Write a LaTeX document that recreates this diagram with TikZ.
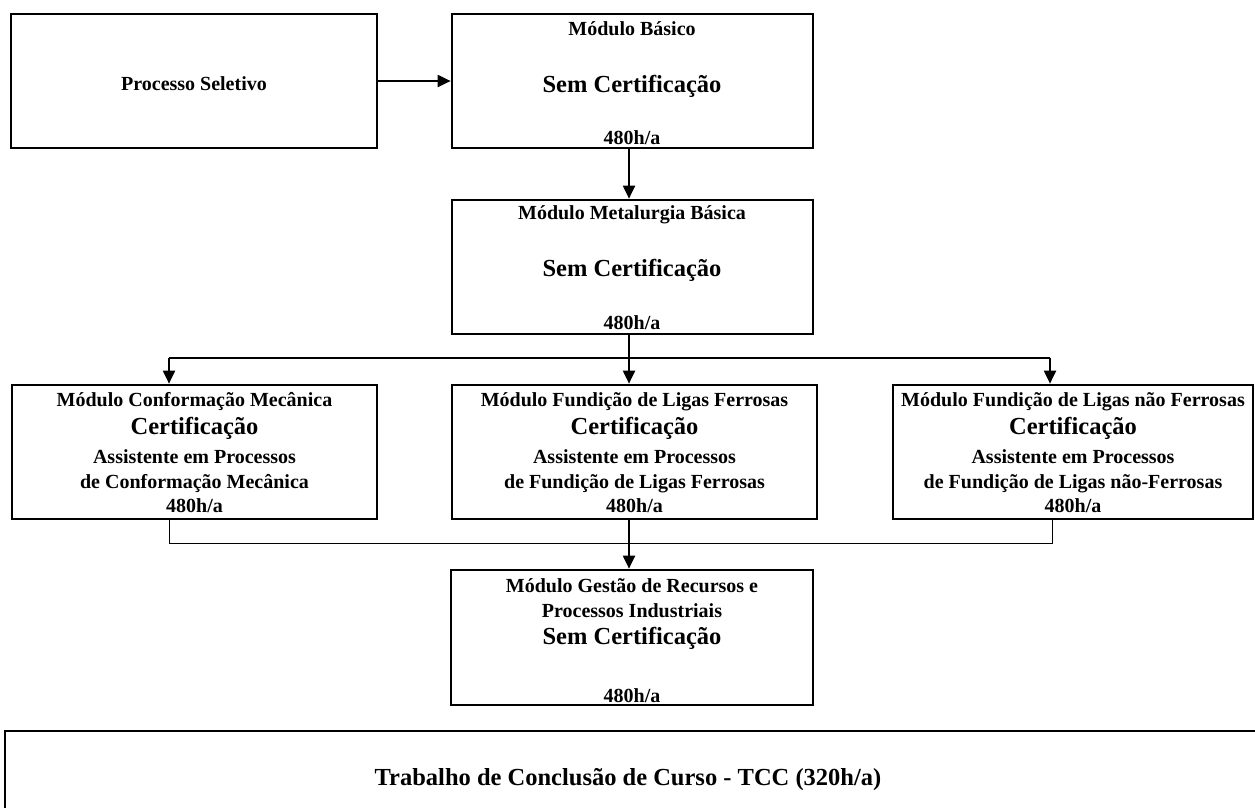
\documentclass[tikz,border=0pt]{standalone}
\usepackage{fontspec}
\setmainfont{Liberation Serif}
\usetikzlibrary{arrows.meta}
\tikzset{
  modbox/.style={draw=black,line width=2.7pt,inner sep=0pt,minimum height=134pt},% course module
  small/.style={font=\fontsize{20}{24}\selectfont\bfseries,inner sep=0pt,anchor=base},
  big/.style={font=\fontsize{24.5}{29}\selectfont\bfseries,inner sep=0pt,anchor=base},
  arr/.style={-{Triangle[length=13pt,width=12pt]},line width=2pt},
  branch/.style={line width=1.5pt},
  merge/.style={line width=1pt},
}

\begin{document}
\begin{tikzpicture}[x=1pt,y=-1pt]
  \clip (0,0) rectangle (1255,807);
  % boxes
  \node[modbox,minimum width=366pt] (proc) at (194,81) {};
  \node[modbox,minimum width=361pt] (basico) at (632.5,81) {};
  \node[modbox,minimum width=361pt] (metal) at (632.5,267) {};
  \node[modbox,minimum width=365pt] (conf) at (194.5,452) {};
  \node[modbox,minimum width=365pt] (fer) at (634.5,452) {};
  \node[modbox,minimum width=360pt] (nfer) at (1073,452) {};
  \node[modbox,minimum width=362pt,minimum height=135pt] (gestao) at (632,637.5) {};
  \draw[line width=2.7pt] (5,731) rectangle (1280,840);
  % texts
  \node[small] (procA) at (194,90) {Processo Seletivo};
  \node[small] (basicoA) at (632,35) {Módulo Básico};
  \node[big] (basicoB) at (632,92) {Sem Certificação};
  \node[small] (basicoC) at (632,144) {480h/a};
  \node[small] (metalA) at (632,219) {Módulo Metalurgia Básica};
  \node[big] (metalB) at (632,276) {Sem Certificação};
  \node[small] (metalC) at (632,329) {480h/a};
  \node[small] (confA) at (194.5,406) {Módulo Conformação Mecânica};
  \node[big] (confB) at (194.5,434) {Certificação};
  \node[small] (confC) at (194.5,463) {Assistente em Processos};
  \node[small] (confD) at (194.5,488) {de Conformação Mecânica};
  \node[small] (confE) at (194.5,512) {480h/a};
  \node[small] (ferA) at (634.5,406) {Módulo Fundição de Ligas Ferrosas};
  \node[big] (ferB) at (634.5,434) {Certificação};
  \node[small] (ferC) at (634.5,463) {Assistente em Processos};
  \node[small] (ferD) at (634.5,488) {de Fundição de Ligas Ferrosas};
  \node[small] (ferE) at (634.5,512) {480h/a};
  \node[small] (nferA) at (1073,406) {Módulo Fundição de Ligas não Ferrosas};
  \node[big] (nferB) at (1073,434) {Certificação};
  \node[small] (nferC) at (1073,463) {Assistente em Processos};
  \node[small] (nferD) at (1073,488) {de Fundição de Ligas não-Ferrosas};
  \node[small] (nferE) at (1073,512) {480h/a};
  \node[small] (gestaoA) at (632,592) {Módulo Gestão de Recursos e};
  \node[small] (gestaoB) at (632,617) {Processos Industriais};
  \node[big] (gestaoC) at (632,644) {Sem Certificação};
  \node[small] (gestaoD) at (632,702) {480h/a};
  \node[big] (tcc) at (628,785) {Trabalho de Conclusão de Curso - TCC (320h/a)};
  % connectors
  \coordinate (spine) at (629,358);
  \coordinate (lftdrop) at (169,358);
  \coordinate (rgtdrop) at (1050,358);
  \coordinate (lftjoin) at (169,543);
  \coordinate (rgtjoin) at (1052,543);
  \draw[arr] (proc.east) -- (basico.west);
  \draw[arr] (basico.south -| spine) -- (metal.north -| spine);
  \draw[arr] (metal.south -| spine) -- (fer.north -| spine);
  \draw[branch] (lftdrop) -- (rgtdrop);
  \draw[arr] (lftdrop) -- (conf.north -| lftdrop);
  \draw[arr] (rgtdrop) -- (nfer.north -| rgtdrop);
  \draw[merge] (conf.south -| lftjoin) -- (lftjoin) -- (rgtjoin) -- (nfer.south -| rgtjoin);
  \draw[arr] (fer.south -| spine) -- (gestao.north -| spine);
\end{tikzpicture}
\end{document}
